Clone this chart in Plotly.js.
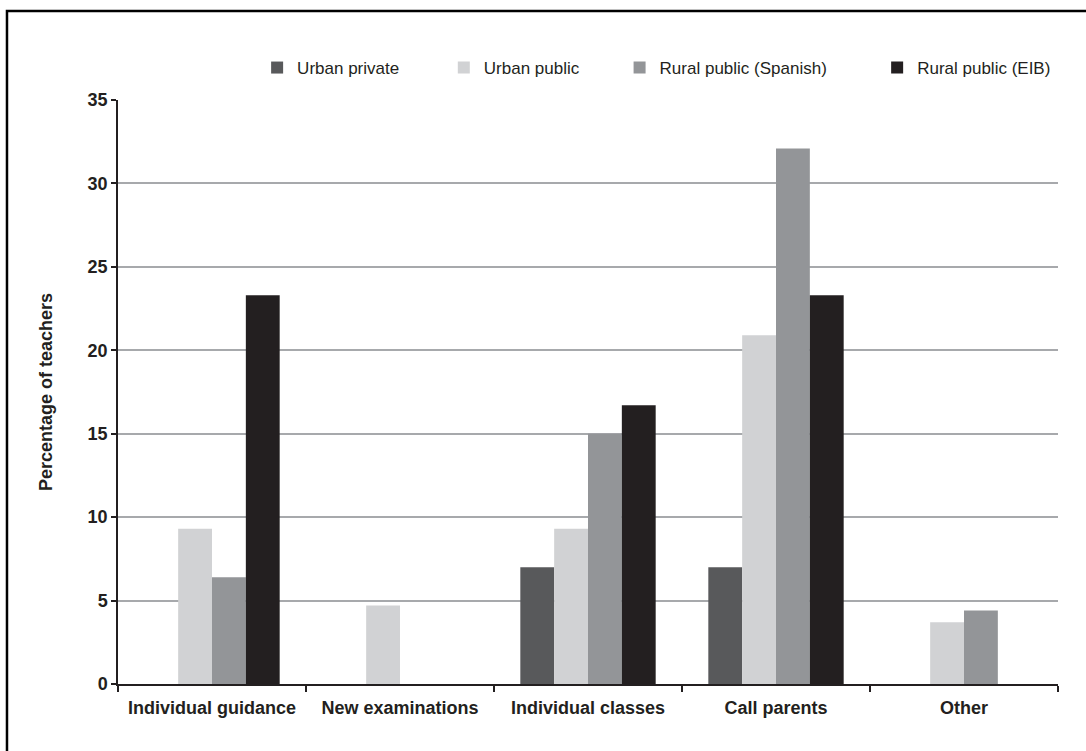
<!DOCTYPE html>
<html>
<head>
<meta charset="utf-8">
<script src="https://cdn.plot.ly/plotly-3.0.1.min.js"></script>
<style>
  html, body { margin: 0; padding: 0; background: #ffffff; }
  #chart { width: 1086px; height: 751px; }
</style>
</head>
<body>
<div id="chart"></div>
<script>
// ---- data ----
const categories = ["Individual guidance", "New examinations", "Individual classes", "Call parents", "Other"];
const seriesNames = ["Urban private", "Urban public", "Rural public (Spanish)", "Rural public (EIB)"];
const urbanPrivate = [0, 0, 7.0, 7.0, 0];
const urbanPublic = [9.3, 4.7, 9.3, 20.9, 3.7];
const ruralSpanish = [6.4, 0, 15.0, 32.1, 4.4];
const ruralEIB = [23.3, 0, 16.7, 23.3, 0];
const yTickValues = [0, 5, 10, 15, 20, 25, 30, 35];
const yTitle = "Percentage of teachers";

// ---- styles ----
const colors = ["#58595b", "#d1d2d4", "#939598", "#231f20"];
const seriesValues = [urbanPrivate, urbanPublic, ruralSpanish, ruralEIB];
const legendNames = ["legend", "legend2", "legend3", "legend4"];
const legendX = [0.148, 0.3466, 0.5336, 0.8076];
const font = "Liberation Sans, Arial, Helvetica, sans-serif";
const textColor = "#231f20";

const traces = seriesValues.map((vals, i) => ({
  type: "bar",
  name: seriesNames[i],
  x: categories,
  y: vals,
  marker: { color: colors[i], line: { width: 0 } },
  legend: legendNames[i],
  showlegend: true,
  hoverinfo: "y+name"
}));

const layout = {
  width: 1086,
  height: 751,
  showlegend: true,
  margin: { l: 118, r: 28, t: 100, b: 67, pad: 0 },
  paper_bgcolor: "#ffffff",
  plot_bgcolor: "#ffffff",
  barmode: "group",
  bargap: 0.28,
  bargroupgap: 0,
  font: { family: font, color: textColor, size: 17 },
  xaxis: {
    type: "category",
    showgrid: false,
    showline: true,
    linecolor: "#231f20",
    linewidth: 1.5,
    ticks: "outside",
    tickson: "boundaries",
    ticklen: 6,
    tickcolor: "#231f20",
    tickwidth: 1.5,
    tickangle: 0,
    ticklabelstandoff: 7,
    tickfont: { family: font, size: 18, color: textColor, weight: "bold" },
    zeroline: false,
    automargin: false,
    fixedrange: true
  },
  yaxis: {
    range: [0, 35],
    tickvals: yTickValues,
    ticktext: yTickValues.map(String),
    showgrid: true,
    gridcolor: "#a7a9ac",
    gridwidth: 1.5,
    showline: true,
    linecolor: "#231f20",
    linewidth: 1.5,
    ticks: "outside",
    ticklen: 5,
    tickcolor: "#231f20",
    tickwidth: 1.5,
    tickfont: { family: font, size: 18, color: textColor, weight: "bold" },
    zeroline: false,
    automargin: false,
    title: { text: yTitle, standoff: 30, font: { family: font, size: 18, color: textColor, weight: "bold" } },
    fixedrange: true
  },
  shapes: [{
    type: "rect",
    xref: "paper", yref: "paper",
    x0: -0.1181, x1: 1.05,
    y0: -0.13, y1: 1.1524,
    line: { color: "#000000", width: 2.5 },
    fillcolor: "rgba(0,0,0,0)",
    layer: "below"
  }]
};

legendNames.forEach((ln, i) => {
  layout[ln] = {
    visible: true,
    orientation: "h",
    x: legendX[i],
    xanchor: "left",
    y: 1.0548,
    yanchor: "middle",
    bgcolor: "rgba(0,0,0,0)",
    font: { family: font, size: 17, color: textColor },
    itemclick: false,
    itemdoubleclick: false
  };
});

Plotly.newPlot("chart", traces, layout, { displayModeBar: false });
</script>
</body>
</html>
